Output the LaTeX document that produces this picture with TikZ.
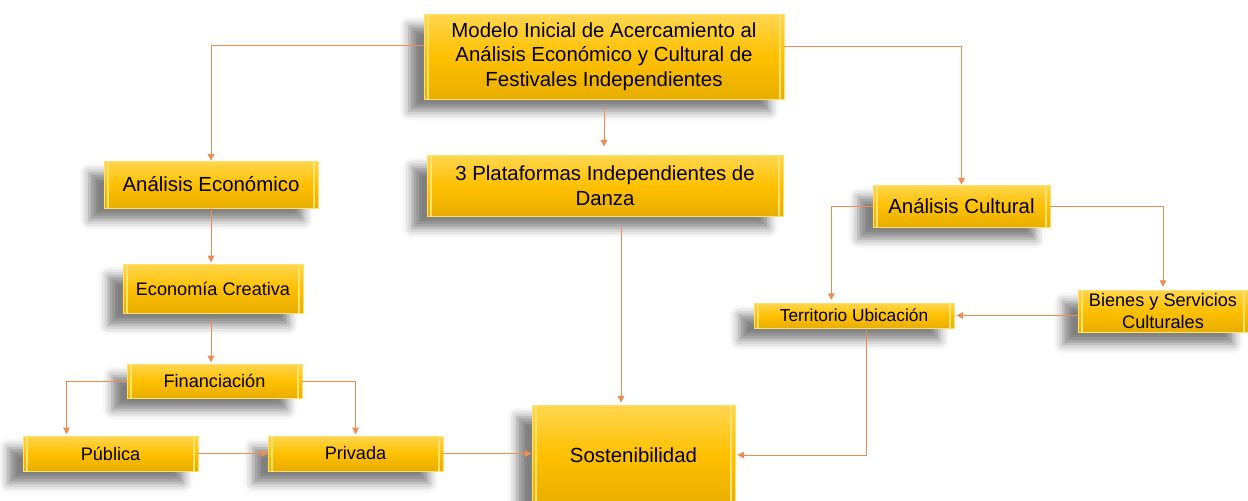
\documentclass[tikz,border=0pt]{standalone}
\usepackage{fontspec}
\setmainfont{Liberation Sans}
\usetikzlibrary{shadows.blur,arrows.meta}
\definecolor{boxtop}{RGB}{255,214,80}
\definecolor{boxmid}{RGB}{255,192,0}
\definecolor{boxbot}{RGB}{232,174,0}
\definecolor{boxrim}{RGB}{255,226,110}
\definecolor{linkcol}{RGB}{240,140,82}
\tikzset{%
    box/.style={%
        draw=boxrim, line width=0.6pt, inner sep=0pt, align=center,
        top color=boxtop, bottom color=boxbot, middle color=boxmid,
        blur shadow={shadow xshift=-11pt, shadow yshift=-9pt,
                     shadow blur radius=7pt, shadow opacity=50},
        path picture={
            \draw[boxrim, line width=0.8pt]
                ([xshift=3pt]path picture bounding box.north west) --
                ([xshift=3pt]path picture bounding box.south west);
            \draw[boxrim, line width=0.8pt]
                ([xshift=-3pt]path picture bounding box.north east) --
                ([xshift=-3pt]path picture bounding box.south east);
        }
    },
    bigtext/.style={font=\fontsize{15.3}{18.4}\selectfont},
    midtext/.style={font=\fontsize{13.6}{16}\selectfont},
    link/.style={%
        draw=linkcol, line width=0.7pt,
        -{Triangle[length=5pt, width=5pt]}
    }
}

\begin{document}
\begin{tikzpicture}[x=0.75pt, y=-0.75pt]
\useasboundingbox (0,0) rectangle (1248,500);

% nodes
\node[box, bigtext, minimum width=270pt, minimum height=63.75pt]
    (modelo) at (604,56.5)
    {Modelo Inicial de Acercamiento al\\ An\'alisis Econ\'omico y Cultural de\\ Festivales Independientes};
\node[box, bigtext, minimum width=267pt, minimum height=45.75pt]
    (plataformas) at (605,185.5)
    {3 Plataformas Independientes de\\ Danza};
\node[box, bigtext, minimum width=160.5pt, minimum height=35.25pt]
    (economico) at (211,184.5) {An\'alisis Econ\'omico};
\node[box, midtext, minimum width=135pt, minimum height=36.75pt]
    (creativa) at (213,288.5) {Econom\'ia Creativa};
\node[box, midtext, minimum width=131.25pt, minimum height=25.5pt]
    (financiacion) at (214.5,381) {Financiaci\'on};
\node[box, midtext, minimum width=131.25pt, minimum height=26.25pt]
    (publica) at (110.5,453.5) {P\'ublica};
\node[box, midtext, minimum width=131.25pt, minimum height=26.25pt]
    (privada) at (355.5,453.5) {Privada};
\node[box, bigtext, minimum width=152.25pt, minimum height=75pt]
    (sostenibilidad) at (633.5,455) {Sostenibilidad};
\node[box, bigtext, minimum width=132.75pt, minimum height=31.5pt]
    (cultural) at (961.5,206) {An\'alisis Cultural};
\node[box, font=\fontsize{13}{15}\selectfont, minimum width=150pt, minimum height=18.75pt]
    (territorio) at (854,315.5) {Territorio Ubicaci\'on};
\node[box, midtext, minimum width=127.5pt, minimum height=31.5pt]
    (bienes) at (1163,311) {Bienes y Servicios\\ Culturales};

% connectors
\draw[link] ([yshift=8.6pt]modelo.west) -| (economico.north);
\draw[link, shorten <=6pt, shorten >=6pt] (modelo.south) -- (modelo.south |- plataformas.north);
\draw[link] ([yshift=7.5pt]modelo.east) -| (cultural.north);
\draw[link, shorten >=1pt] (economico.south) -- (economico.south |- creativa.north);
\draw[link, shorten <=4pt, shorten >=1pt] (creativa.south -| economico.south) -- (economico.south |- financiacion.north);
\draw[link, shorten >=1pt] (financiacion.west) -| ([xshift=-33pt]publica.north);
\draw[link, shorten >=1pt] (financiacion.east) -| (privada.north);
\draw[link] (publica.east) -- (privada.west);
\draw[link] (privada.east) -- (privada.east -| sostenibilidad.west);
\draw[link, shorten <=9pt, shorten >=1.5pt] ([xshift=12pt]plataformas.south) -- ([xshift=12pt]plataformas.south |- sostenibilidad.north);
\draw[link, shorten >=2pt] (cultural.west) -| ([xshift=-17pt]territorio.north);
\draw[link, shorten >=2pt] (cultural.east) -| (bienes.north);
\draw[link, shorten >=1.5pt] (bienes.west |- territorio.east) -- (territorio.east);
\draw[link, shorten <=1.5pt, shorten >=1.5pt] ([xshift=9pt]territorio.south) |- (sostenibilidad.east);
\end{tikzpicture}
\end{document}
